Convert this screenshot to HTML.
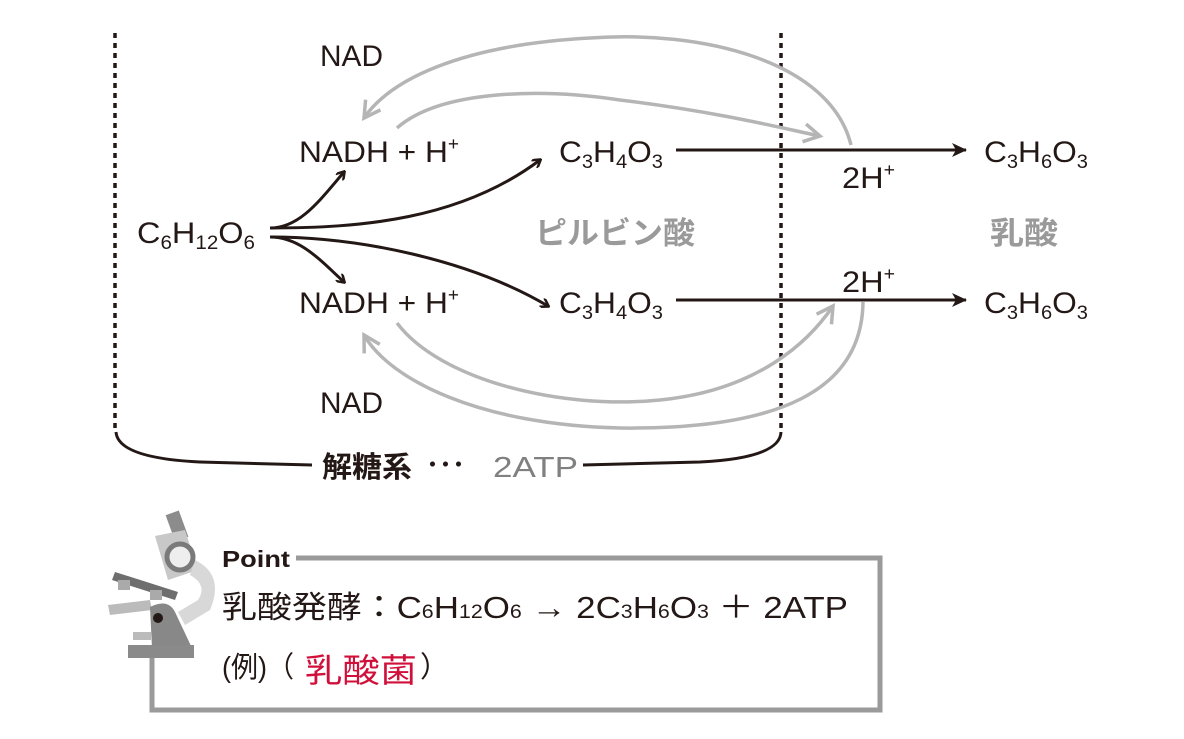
<!DOCTYPE html>
<html><head><meta charset="utf-8"><style>
body{margin:0;background:#fff}
svg{display:block}
text{font-family:"Liberation Sans","Noto Sans CJK JP",sans-serif;fill:#231815}
</style></head><body>
<svg width="1184" height="739" viewBox="0 0 1184 739" xmlns="http://www.w3.org/2000/svg">
<defs>
<marker id="ab" markerWidth="10" markerHeight="10" refX="8" refY="5" orient="auto" markerUnits="userSpaceOnUse"><path d="M1,0 L9,5 L1,10" fill="none" stroke="#231815" stroke-width="2.5"/></marker>
<marker id="ag" markerWidth="22" markerHeight="22" refX="18" refY="11" orient="auto" markerUnits="userSpaceOnUse"><path d="M2,2 L18,11 L2,20" fill="none" stroke="#b5b5b5" stroke-width="3.5"/></marker>
<marker id="abig" markerWidth="16" markerHeight="14" refX="14" refY="7" orient="auto" markerUnits="userSpaceOnUse"><path d="M0,0 L15,7 L0,14 L4,7Z" fill="#231815"/></marker>
</defs>
<line x1="115" y1="33" x2="115" y2="432" stroke="#231815" stroke-width="3.5" stroke-dasharray="5,5"/>
<line x1="781" y1="33" x2="781" y2="432" stroke="#231815" stroke-width="3.5" stroke-dasharray="5,5"/>
<path d="M116,432 Q118,458 200,462 L312,465" fill="none" stroke="#231815" stroke-width="3"/>
<path d="M583,465 L700,462 Q780,458 781,432" fill="none" stroke="#231815" stroke-width="3"/>
<text x="322" y="477" font-size="29" font-weight="bold" textLength="90" lengthAdjust="spacingAndGlyphs">解糖系</text>
<text x="426" y="474" font-size="26" font-weight="bold">･･･</text>
<text x="493" y="477" font-size="29" style="fill:#808080" textLength="85" lengthAdjust="spacingAndGlyphs">2ATP</text>
<path d="M851,145 C830,60 700,30 590,38 C460,45 390,80 364,118" fill="none" stroke="#b5b5b5" stroke-width="3.5" marker-end="url(#ag)"/>
<path d="M397,128 C440,90 540,88 620,100 C720,112 790,130 820,136" fill="none" stroke="#b5b5b5" stroke-width="3.5" marker-end="url(#ag)"/>
<path d="M397,323 C440,380 560,410 660,400 C760,390 810,340 833,306" fill="none" stroke="#b5b5b5" stroke-width="3.5" marker-end="url(#ag)"/>
<path d="M863,302 C862,390 780,430 620,428 C480,425 390,380 364,335" fill="none" stroke="#b5b5b5" stroke-width="3.5" marker-end="url(#ag)"/>
<path d="M270,228 C300,228 320,200 344,172" fill="none" stroke="#231815" stroke-width="3" marker-end="url(#ab)"/>
<path d="M270,228 C360,228 460,220 540,160" fill="none" stroke="#231815" stroke-width="3" marker-end="url(#ab)"/>
<path d="M270,237 C300,237 320,260 344,282" fill="none" stroke="#231815" stroke-width="3" marker-end="url(#ab)"/>
<path d="M270,237 C360,237 470,260 548,306" fill="none" stroke="#231815" stroke-width="3" marker-end="url(#ab)"/>
<line x1="676" y1="150" x2="966" y2="150" stroke="#231815" stroke-width="3" marker-end="url(#abig)"/>
<line x1="676" y1="300" x2="966" y2="300" stroke="#231815" stroke-width="3" marker-end="url(#abig)"/>
<g font-size="30">
<text x="320" y="66" textLength="63" lengthAdjust="spacingAndGlyphs">NAD</text>
<text x="320" y="413" textLength="63" lengthAdjust="spacingAndGlyphs">NAD</text>
<text x="299" y="162" textLength="160" lengthAdjust="spacingAndGlyphs">NADH + H<tspan font-size="18" dy="-12">+</tspan></text>
<text x="299" y="313" textLength="160" lengthAdjust="spacingAndGlyphs">NADH + H<tspan font-size="18" dy="-12">+</tspan></text>
<text x="137" y="243" textLength="118" lengthAdjust="spacingAndGlyphs">C<tspan font-size="19" dy="6">6</tspan><tspan dy="-6">H</tspan><tspan font-size="19" dy="6">12</tspan><tspan dy="-6">O</tspan><tspan font-size="19" dy="6">6</tspan></text>
<text x="559" y="162" textLength="104" lengthAdjust="spacingAndGlyphs">C<tspan font-size="19" dy="6">3</tspan><tspan dy="-6">H</tspan><tspan font-size="19" dy="6">4</tspan><tspan dy="-6">O</tspan><tspan font-size="19" dy="6">3</tspan></text>
<text x="559" y="313" textLength="104" lengthAdjust="spacingAndGlyphs">C<tspan font-size="19" dy="6">3</tspan><tspan dy="-6">H</tspan><tspan font-size="19" dy="6">4</tspan><tspan dy="-6">O</tspan><tspan font-size="19" dy="6">3</tspan></text>
<text x="984" y="162" textLength="104" lengthAdjust="spacingAndGlyphs">C<tspan font-size="19" dy="6">3</tspan><tspan dy="-6">H</tspan><tspan font-size="19" dy="6">6</tspan><tspan dy="-6">O</tspan><tspan font-size="19" dy="6">3</tspan></text>
<text x="984" y="313" textLength="104" lengthAdjust="spacingAndGlyphs">C<tspan font-size="19" dy="6">3</tspan><tspan dy="-6">H</tspan><tspan font-size="19" dy="6">6</tspan><tspan dy="-6">O</tspan><tspan font-size="19" dy="6">3</tspan></text>
<text x="842" y="188" textLength="53" lengthAdjust="spacingAndGlyphs">2H<tspan font-size="18" dy="-12">+</tspan></text>
<text x="842" y="292" textLength="53" lengthAdjust="spacingAndGlyphs">2H<tspan font-size="18" dy="-12">+</tspan></text>
</g>
<text x="535" y="244" font-size="31" font-weight="bold" style="fill:#9a9a9a" textLength="160" lengthAdjust="spacingAndGlyphs">ピルビン酸</text>
<text x="990" y="244" font-size="31" font-weight="bold" style="fill:#9a9a9a" textLength="68" lengthAdjust="spacingAndGlyphs">乳酸</text>
<path d="M296,558 L880,558 L880,710 L152,710 L152,655" fill="none" stroke="#9a9a9a" stroke-width="5"/>
<text x="222" y="567" font-size="23" font-weight="bold" textLength="68" lengthAdjust="spacingAndGlyphs">Point</text>
<text x="222" y="618" font-size="31" textLength="626" lengthAdjust="spacingAndGlyphs">乳酸発酵：C<tspan font-size="19">6</tspan>H<tspan font-size="19">12</tspan>O<tspan font-size="19">6</tspan> → 2C<tspan font-size="19">3</tspan>H<tspan font-size="19">6</tspan>O<tspan font-size="19">3</tspan> ＋ 2ATP</text>
<text x="222" y="677" font-size="29" textLength="72" lengthAdjust="spacingAndGlyphs">(例)（</text>
<text x="305" y="682" font-size="33" style="fill:#d0103a" font-family="'Noto Serif CJK SC',serif" textLength="112" lengthAdjust="spacingAndGlyphs">乳酸菌</text>
<text x="420" y="677" font-size="29">）</text>
<g>
<rect x="170" y="512" width="14" height="28" fill="#8c8c8c" transform="rotate(-20 177 526)"/>
<path d="M155,536 L185,530 L198,570 L168,580Z" fill="#c8c8c8"/>
<path d="M195,560 Q225,575 210,610 L185,625 L178,612 L198,600 Q208,585 190,575Z" fill="#d8d8d8"/>
<circle cx="180" cy="557" r="13" fill="#eee" stroke="#7a7a7a" stroke-width="5"/>
<path d="M115,572 L178,592 L175,600 L112,580Z" fill="#6e6e6e"/>
<rect x="118" y="580" width="12" height="10" fill="#aaa"/>
<rect x="150" y="590" width="12" height="10" fill="#aaa"/>
<path d="M108,605 L150,600 L152,610 L110,615Z" fill="#bbb"/>
<path d="M150,607 Q168,598 175,612 L192,648 L152,648Z" fill="#888"/>
<circle cx="158" cy="618" r="5" fill="#231815"/>
<rect x="133" y="632" width="18" height="8" fill="#bbb"/>
<rect x="128" y="645" width="66" height="13" fill="#8a8a8a"/>
</g>
</svg>
</body></html>
